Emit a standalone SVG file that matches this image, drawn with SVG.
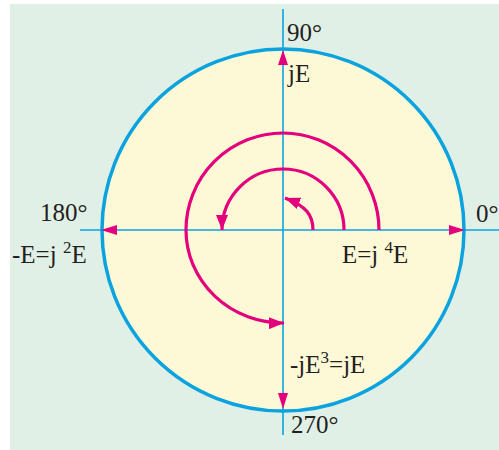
<svg xmlns="http://www.w3.org/2000/svg" width="499" height="450" viewBox="0 0 499 450">
  <style>
    .axis { stroke: #0aa3e0; stroke-width: 1.6; fill: none; }
    .ring { stroke: #0aa3e0; stroke-width: 3.5; fill: #fdf9d6; }
    .rot { stroke: #e4007c; stroke-width: 3.2; fill: none; }
    .head { fill: #e4007c; }
    .lbl { font-family: "Liberation Serif", "Times New Roman", serif; font-size: 25px; fill: #231f20; }
    .sup { font-size: 17px; }
  </style>
  <defs>
    <marker id="ah" markerUnits="userSpaceOnUse" markerWidth="16" markerHeight="12" refX="15" refY="6" orient="auto">
      <path d="M0,0 L15,6 L0,12 z" fill="#e4007c"/>
    </marker>
  </defs>
  <rect x="10" y="4" width="489" height="446" fill="#e1f0e6"/>
  <g id="circle">
    <circle class="ring" cx="283" cy="230" r="181"/>
  </g>
  <g id="axes">
    <line class="axis" x1="283" y1="9" x2="283" y2="435"/>
    <line class="axis" x1="80" y1="230" x2="499" y2="230"/>
  </g>
  <g id="phasors">
    <polygon class="head" points="283,50 278,65 288,65"/>
    <polygon class="head" points="465,230 449,225 449,235"/>
    <polygon class="head" points="101,230 117,225 117,235"/>
    <polygon class="head" points="283,409 278,393 288,393"/>
  </g>
  <g id="connectors">
    <path class="rot" d="M313,230 C313,215 306,206 285,198" marker-end="url(#ah)"/>
    <path class="rot" d="M344,230 A61,61 0 0 0 283,169 A61,61 0 0 0 222,230" marker-end="url(#ah)"/>
    <path class="rot" d="M379,230 A96,97 0 0 0 283,133 A97,97 0 0 0 186,230 A97,93 0 0 0 284,323" marker-end="url(#ah)"/>
  </g>
  <g id="labels">
    <text class="lbl" x="287" y="41">90°</text>
    <text class="lbl" x="288" y="82">jE</text>
    <text class="lbl" x="40" y="221">180°</text>
    <text class="lbl" x="476" y="222">0°</text>
    <text class="lbl" x="12" y="263">-E=j <tspan class="sup" dy="-10">2</tspan><tspan dy="10">E</tspan></text>
    <text class="lbl" x="342" y="263">E=j <tspan class="sup" dy="-10">4</tspan><tspan dy="10">E</tspan></text>
    <text class="lbl" x="290" y="373">-jE<tspan class="sup" dy="-10">3</tspan><tspan dy="10">=jE</tspan></text>
    <text class="lbl" x="291" y="433">270°</text>
  </g>
</svg>
